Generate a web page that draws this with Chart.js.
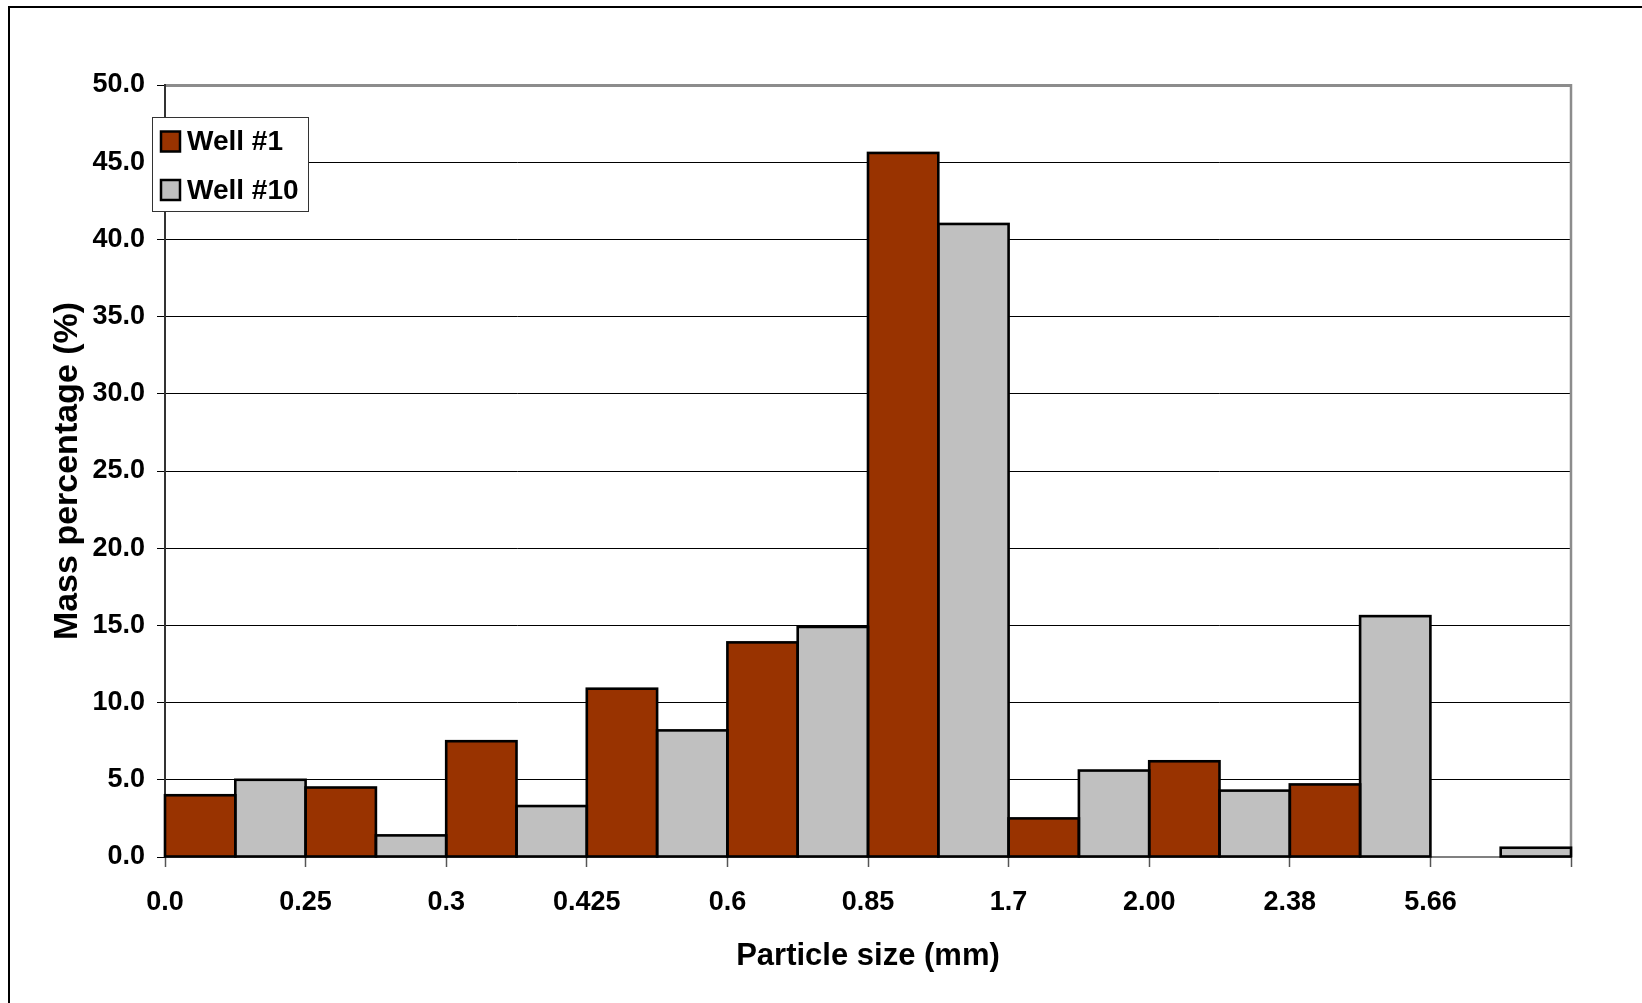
<!DOCTYPE html>
<html>
<head>
<meta charset="utf-8">
<title>Particle size distribution</title>
<script src="https://cdn.jsdelivr.net/npm/chart.js@4/dist/chart.umd.min.js"></script>
<style>
  html, body { margin: 0; padding: 0; background: #fff; overflow: hidden; }
  #wrap { position: relative; width: 1642px; height: 1003px; }
  #chart { position: absolute; left: 0; top: 0; }
  #frame {
    position: absolute; left: 8px; top: 6px; width: 1700px; height: 1100px;
    border-left: 2px solid #000; border-top: 2px solid #000; pointer-events: none;
  }
</style>
</head>
<body>
<div id="wrap">
  <canvas id="chart" width="1642" height="1003"></canvas>
  <div id="frame"></div>
</div>
<script>
// Sieve classes (lower bound of each size bin, mm)
const sieveSizes = ['0.0', '0.25', '0.3', '0.425', '0.6', '0.85', '1.7', '2.00', '2.38', '5.66'];

// Mass percentage retained in each bin
const well1  = [4.0, 4.5, 7.5, 10.9, 13.9, 45.6, 2.5, 6.2, 4.7, 0];
const well10 = [5.0, 1.4, 3.3, 8.2, 14.9, 41.0, 5.6, 4.3, 15.6, 0.6];

const seriesNames  = ['Well #1', 'Well #10'];
const seriesColors = ['#993300', '#C0C0C0'];

const FONT = '"Liberation Sans", Arial, Helvetica, sans-serif';

// Gray right-hand edge of the plot area
const plotFrame = {
  id: 'plotFrame',
  beforeDatasetsDraw(chart) {
    const { ctx, chartArea: a } = chart;
    ctx.save();
    ctx.strokeStyle = '#8c8c8c';
    ctx.lineWidth = 2.5;
    ctx.beginPath();
    ctx.moveTo(a.right, a.top - 1);
    ctx.lineTo(a.right, a.bottom);
    ctx.stroke();
    ctx.restore();
  }
};

// Black outline stroked centred on every bar edge, so neighbouring bars share one line
const barOutline = {
  id: 'barOutline',
  afterDatasetsDraw(chart) {
    const { ctx } = chart;
    ctx.save();
    ctx.strokeStyle = '#000';
    ctx.lineWidth = 2.6;
    ctx.lineJoin = 'miter';
    chart.data.datasets.forEach((ds, i) => {
      chart.getDatasetMeta(i).data.forEach((bar, j) => {
        if (!ds.data[j]) return;
        const p = bar.getProps(['x', 'y', 'base', 'width'], true);
        const left = p.x - p.width / 2;
        ctx.strokeRect(left, p.y, p.width, p.base - p.y);
      });
    });
    ctx.restore();
  }
};

// Boxed legend overlapping the upper-left corner of the plot
const boxLegend = {
  id: 'boxLegend',
  afterDatasetsDraw(chart) {
    const { ctx, chartArea: a } = chart;
    const x = a.left - 13, y = a.top + 32, w = 157, h = 95;
    ctx.save();
    ctx.fillStyle = '#fff';
    ctx.fillRect(x, y, w, h);
    ctx.strokeStyle = '#333';
    ctx.lineWidth = 1;
    ctx.strokeRect(x + 0.5, y + 0.5, w - 1, h - 1);
    ctx.font = `bold 28px ${FONT}`;
    ctx.textBaseline = 'middle';
    ctx.textAlign = 'left';
    chart.data.datasets.forEach((ds, i) => {
      const rowY = y + 24.5 + i * 48.5;
      ctx.fillStyle = ds.backgroundColor;
      ctx.fillRect(x + 9, rowY - 10, 19, 20);
      ctx.strokeStyle = '#000';
      ctx.lineWidth = 2.5;
      ctx.strokeRect(x + 9, rowY - 10, 19, 20);
      ctx.fillStyle = '#000';
      ctx.fillText(ds.label, x + 35, rowY + 1);
    });
    ctx.restore();
  }
};

const barStyle = {
  borderWidth: 0,
  categoryPercentage: 1,
  barPercentage: 1,
  inflateAmount: 0
};

new Chart(document.getElementById('chart'), {
  type: 'bar',
  data: {
    labels: sieveSizes,
    datasets: [
      Object.assign({ label: seriesNames[0], data: well1,  backgroundColor: seriesColors[0] }, barStyle),
      Object.assign({ label: seriesNames[1], data: well10, backgroundColor: seriesColors[1] }, barStyle)
    ]
  },
  options: {
    responsive: false,
    animation: false,
    layout: { padding: { top: 85, right: 71, left: 0, bottom: 0 } },
    plugins: { legend: { display: false }, tooltip: { enabled: false } },
    scales: {
      x: {
        type: 'category',
        offset: true,
        grid: { offset: true, drawOnChartArea: false, drawTicks: true, tickLength: 10, tickColor: '#555', tickWidth: 1.5 },
        border: { color: '#808080', width: 2 },
        ticks: {
          autoSkip: false, maxRotation: 0, minRotation: 0,
          labelOffset: -70.3, padding: 19, color: '#000',
          font: { family: FONT, size: 27, weight: 'bold' }
        },
        title: {
          display: true, text: 'Particle size (mm)', color: '#000',
          font: { family: FONT, size: 31, weight: 'bold' },
          padding: { top: 0, bottom: 28 }
        },
        afterFit(s) { s.height = 146; }
      },
      y: {
        min: 0, max: 50,
        ticks: {
          stepSize: 5, padding: 12, color: '#000',
          font: { family: FONT, size: 27, weight: 'bold' },
          callback: v => Number(v).toFixed(1)
        },
        grid: {
          color: c => (c.tick && c.tick.value === 50 ? '#8c8c8c' : '#000'),
          lineWidth: c => (c.tick && c.tick.value === 50 ? 3 : 1),
          tickLength: 8, tickColor: '#000', tickWidth: 1
        },
        border: { color: '#333', width: 2 },
        title: {
          display: true, text: 'Mass percentage (%)', color: '#000',
          font: { family: FONT, size: 34, weight: 'bold' },
          padding: { top: 47, bottom: 0 }
        },
        afterFit(s) { s.width = 165; }
      }
    }
  },
  plugins: [plotFrame, barOutline, boxLegend]
});
</script>
</body>
</html>
